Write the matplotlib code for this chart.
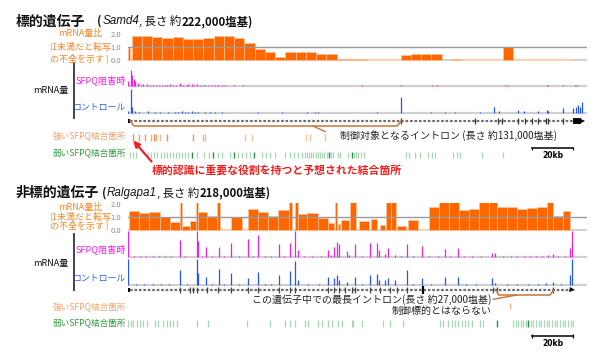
import matplotlib.pyplot as plt
from matplotlib.colors import to_rgba
from matplotlib.patches import Rectangle

plt.rcParams['font.family'] = ['Noto Sans CJK JP', 'DejaVu Sans']

VIEW_KB = 224          # genomic window shown (kb), same scale for both genes
SCALE_KB = 20

# ---------- Samd4 (target gene, ~222,000 bases) ----------
samd4_bin_start = [0.0, 1.8, 6.8, 11.8, 16.8, 21.8, 26.8, 31.8, 36.8, 41.8,
                   46.8, 51.8, 56.8, 61.8, 66.8, 71.8, 76.8, 81.8, 86.8, 91.8,
                   96.8, 101.8, 106.8, 111.8, 133.0, 138.0, 143.0, 148.0, 158.0, 182.8]
samd4_bin_width = [0.8, 5, 5, 5, 5, 5, 5, 5, 5, 5,
                   5, 5, 5, 5, 5, 5, 5, 5, 5, 5,
                   5, 5, 5, 5, 5, 5, 5, 5, 5, 5]
samd4_ratio = [0.92, 1.85, 1.85, 1.75, 1.64, 1.75, 1.57, 1.57, 1.69, 1.82,
               1.82, 1.64, 1.26, 0.82, 0.59, 0.18, 0.57, 0.57, 0.57, 0.44,
               0.44, 0.05, 0.05, 0.05, 0.36, 0.44, 0.44, 0.44, 0.05, 1.00]
samd4_no_reads = [(116.4, 133.0), (163.0, 182.8), (187.3, 217.0)]

samd4_sfpq_pos = [0.2, 1.5, 2.1, 2.8, 3.4, 5.0, 6.3, 7.4,
                  9.1, 10.6, 12.0, 13.5, 15.0, 16.4, 18.1, 19.2,
                  20.5, 22.0, 23.6, 25.4, 27.0, 28.2, 29.4, 31.1,
                  32.3, 33.5, 35.0, 36.4, 37.8, 39.0, 40.8, 42.6,
                  44.1, 46.0, 47.5, 49.3, 51.8, 54.0, 56.2, 58.5,
                  61.0, 63.7, 67.0, 70.2, 73.1, 76.5, 80.0, 84.2,
                  88.3, 92.0, 97.5, 114.0, 133.0, 148.5, 150.6, 158.7,
                  167.2, 183.9, 185.4, 204.2, 205.0, 212.4, 218.0, 218.9]
samd4_sfpq_h = [0.30, 1.00, 0.69, 0.44, 0.30, 0.20, 0.10, 0.12,
                0.12, 0.07, 0.06, 0.09, 0.08, 0.06, 0.07, 0.10,
                0.15, 0.07, 0.08, 0.18, 0.08, 0.06, 0.12, 0.15,
                0.07, 0.12, 0.07, 0.09, 0.08, 0.06, 0.10, 0.07,
                0.06, 0.06, 0.08, 0.05, 0.06, 0.05, 0.06, 0.05,
                0.05, 0.04, 0.05, 0.04, 0.05, 0.04, 0.05, 0.04,
                0.05, 0.04, 0.04, 0.06, 0.06, 0.06, 0.06, 0.05,
                0.05, 0.10, 0.07, 0.08, 0.08, 0.06, 0.07, 0.07]
samd4_ctrl_pos = [0.2, 1.46, 2.1, 3.4, 5.2, 9.9, 13.2, 15.6, 19.7, 22.9,
                  24.5, 26.2, 27.8, 29.4, 31.1, 32.7, 34.3, 37.6, 40.0, 42.4,
                  45.7, 63.6, 75.0, 87.1, 91.2, 92.8, 121.3, 133.0, 147.7, 154.7,
                  159.5, 171.7, 178.7, 181.1, 190.1, 193.3, 199.8, 204.2, 205.0, 212.4,
                  217.2, 218.3, 219.3, 220.5, 221.3]
samd4_ctrl_h = [0.10, 1.00, 0.24, 0.10, 0.06, 0.10, 0.05, 0.06, 0.05, 0.06,
                0.05, 0.07, 0.05, 0.06, 0.07, 0.05, 0.06, 0.05, 0.05, 0.04,
                0.06, 0.05, 0.04, 0.05, 0.04, 0.05, 0.05, 0.68, 0.06, 0.06,
                0.05, 0.05, 0.24, 0.08, 0.14, 0.10, 0.08, 0.12, 0.10, 0.20,
                0.20, 0.25, 0.35, 0.25, 0.48]

samd4_first_exon = (0.0, 1.2)
samd4_exons = [133.2, 169.3, 180.6, 182.3, 190.4, 193.7, 196.9, 200.2, 203.9, 205.0, 212.4]
samd4_last_exon = (217.2, 221.0)
samd4_intron = (1.0, 133.2)

samd4_strong_sites = [2.6, 5.5, 8.3, 11.1, 12.7, 13.7, 15.6, 18.9,
                      31.6, 36.7, 37.6, 57.1, 60.3, 86.8, 88.8, 96.1]
samd4_strong_level = [1.0, 0.8, 0.9, 0.7, 1.0, 0.8, 0.6, 1.0,
                      0.9, 0.7, 0.6, 0.6, 0.5, 0.5, 0.5, 0.6]
samd4_weak_sites = [1.2, 2.4, 3.9, 9.8, 11.2, 12.7, 14.1, 16.1, 17.6, 19.0,
                    20.5, 22.0, 23.4, 24.9, 26.3, 27.8, 29.3, 33.7, 37.1, 39.5,
                    43.9, 45.9, 49.8, 53.7, 55.6, 57.6, 59.5, 65.4, 67.3, 69.3,
                    71.7, 76.6, 79.0, 81.0, 82.9, 84.9, 86.3, 87.3, 88.3, 89.3,
                    90.2, 91.7, 92.7, 93.7, 94.6, 95.6, 97.1, 99.0, 100.0, 102.4,
                    103.4, 107.3, 110.2, 111.2, 112.2, 113.7, 115.1, 135.6, 137.1, 140.0,
                    142.4, 146.3, 148.3, 149.8, 158.5, 160.5, 162.0, 172.7, 182.9]
samd4_weak_dark = [31.2, 41.5, 51.7, 61.5, 98.0, 109.3]

# ---------- Ralgapa1 (non-target gene, ~218,000 bases) ----------
ralgapa1_bin_start = [0.5, 5.4, 10.2, 15.5, 20.5, 25.4, 26.2, 30.4, 33.3, 34.3,
                      38.4, 43.4, 50.2, 58.7, 63.6, 68.1, 73.3, 78.7, 81.5, 82.8,
                      87.5, 92.5, 97.7, 101.0, 102.6, 103.8, 108.3, 112.8, 118.4, 122.9,
                      125.7, 128.2, 131.1, 136.7, 147.0, 151.9, 156.7, 161.6, 166.5, 171.4,
                      176.2, 179.9, 184.7, 189.6, 194.5, 199.4, 204.2, 207.5, 212.4]
ralgapa1_bin_width = [4.9, 4.9, 5.2, 5.0, 4.9, 0.8, 4.2, 2.9, 1.0, 4.1,
                      5.0, 1.5, 5.2, 4.9, 4.6, 5.2, 5.4, 1.2, 1.3, 4.7,
                      5.1, 5.2, 2.9, 1.1, 0.8, 4.2, 2.7, 4.9, 3.2, 2.4,
                      2.5, 2.4, 4.5, 4.7, 4.9, 4.9, 4.9, 4.9, 4.9, 4.9,
                      3.6, 4.9, 4.9, 4.9, 4.9, 4.9, 3.2, 4.9, 3.3]
ralgapa1_ratio = [1.50, 1.34, 1.37, 1.00, 0.58, 2.30, 0.29, 0.71, 2.30, 1.37,
                  1.05, 2.30, 1.00, 1.60, 1.42, 1.05, 1.58, 2.30, 2.30, 1.24,
                  1.29, 0.92, 0.50, 2.30, 0.42, 0.76, 2.30, 0.71, 0.84, 0.38,
                  2.30, 2.30, 0.29, 0.76, 1.76, 2.30, 2.30, 1.55, 1.62, 2.30,
                  2.30, 1.76, 1.76, 1.66, 1.72, 1.76, 2.30, 1.08, 1.50]
ralgapa1_no_reads = [(44.9, 50.2), (55.5, 58.7), (141.5, 147.0)]

ralgapa1_sfpq_pos = [0.2, 3.0, 6.0, 9.0, 12.0, 15.0, 18.0, 21.0, 25.4, 28.0,
                     33.5, 34.3, 36.0, 38.0, 41.0, 44.4, 47.0, 50.2, 54.0, 58.7,
                     61.0, 63.3, 67.0, 70.0, 73.7, 76.0, 79.0, 81.5, 82.8, 86.0,
                     90.0, 94.0, 97.4, 99.0, 100.7, 102.1, 103.1, 106.7, 108.0, 110.7,
                     114.0, 118.0, 121.5, 122.4, 125.4, 127.0, 130.2, 133.0, 135.9, 139.0,
                     143.2, 147.0, 151.0, 154.6, 157.0, 160.8, 164.0, 168.0, 172.0, 177.7,
                     179.0, 183.0, 187.0, 190.0, 193.0, 196.0, 199.0, 202.0, 205.0, 207.5,
                     210.0, 213.0, 215.6, 216.4]
ralgapa1_sfpq_h = [1.00, 0.04, 0.05, 0.04, 0.05, 0.04, 0.05, 0.04, 0.65, 0.04,
                   1.00, 0.60, 0.05, 0.38, 0.05, 0.38, 0.04, 0.53, 0.04, 0.69,
                   0.05, 0.85, 0.05, 0.04, 0.50, 0.05, 0.53, 1.00, 0.27, 0.05,
                   0.04, 0.05, 0.27, 0.08, 0.38, 0.58, 0.49, 0.23, 0.06, 0.49,
                   0.05, 0.54, 0.54, 0.26, 0.10, 0.36, 0.08, 0.05, 0.49, 0.04,
                   0.42, 0.04, 0.05, 0.30, 0.04, 0.36, 0.05, 0.04, 0.05, 0.17,
                   0.17, 0.04, 0.05, 0.04, 0.05, 0.04, 0.05, 0.04, 0.06, 0.13,
                   0.05, 0.05, 0.36, 1.00]
ralgapa1_ctrl_pos = [0.2, 4.0, 8.0, 12.0, 16.0, 20.0, 25.4, 29.0, 33.5, 34.3,
                     38.0, 41.0, 44.4, 47.0, 50.2, 54.0, 58.7, 63.3, 67.0, 70.0,
                     73.7, 79.0, 81.5, 82.8, 88.0, 93.0, 97.4, 100.7, 102.1, 103.1,
                     106.7, 110.7, 114.0, 118.0, 121.5, 122.4, 125.4, 127.0, 130.2, 135.9,
                     139.0, 143.2, 148.0, 154.6, 160.8, 165.0, 170.0, 177.7, 179.0, 185.0,
                     190.0, 195.0, 200.0, 204.0, 207.5, 211.0, 215.6, 216.4]
ralgapa1_ctrl_h = [1.00, 0.04, 0.05, 0.04, 0.04, 0.05, 0.56, 0.04, 1.00, 0.47,
                   0.30, 0.05, 0.63, 0.04, 0.47, 0.05, 0.28, 0.50, 0.04, 0.05,
                   0.38, 0.53, 0.94, 0.20, 0.05, 0.04, 0.30, 0.25, 0.40, 0.20,
                   0.10, 0.32, 0.05, 0.38, 0.43, 0.20, 0.20, 0.28, 0.18, 0.59,
                   0.05, 0.28, 0.04, 0.30, 0.30, 0.05, 0.04, 0.28, 0.09, 0.05,
                   0.05, 0.04, 0.05, 0.06, 0.11, 0.05, 0.38, 1.00]

ralgapa1_first_exon = (0.0, 1.0)
ralgapa1_exons = [25.4, 30.2, 31.9, 33.5, 38.4, 44.0, 50.2, 58.7, 63.3, 73.7,
                  79.0, 81.5, 97.4, 100.6, 103.1, 105.9, 109.1, 110.7, 118.0, 123.0,
                  127.8, 131.1, 136.0, 178.2, 179.8, 207.5]
ralgapa1_big_exon = 144.1
ralgapa1_end = 216.4
ralgapa1_intron = (179.8, 207.5)

ralgapa1_strong_sites = [186.3]
ralgapa1_weak_sites = [0.1, 1.3, 2.6, 4.2, 5.9, 7.5, 9.1, 13.2, 14.8, 17.2,
                       18.9, 20.5, 22.1, 23.8, 33.5, 39.2, 57.9, 69.3, 76.6, 79.0,
                       81.5, 86.3, 88.0, 92.8, 94.5, 97.7, 99.4, 102.6, 104.2, 109.1,
                       109.9, 114.0, 124.5, 127.8, 134.3, 152.2, 153.8, 156.2, 157.9, 159.5,
                       161.1, 162.8, 164.4, 166.0, 167.7, 171.7, 173.3, 188.0, 189.3, 190.4,
                       191.6, 192.8, 194.1, 196.4, 197.7, 199.0, 200.3, 201.6, 202.9, 204.2,
                       205.5, 206.8, 208.1, 209.4, 210.7, 212.0, 213.3, 214.6, 215.9, 217.2]
ralgapa1_weak_dark = [180.1, 195.3]

# ---------- colours ----------
BAR = '#FF6600'
ORANGE_TXT = '#F7862B'
MAGENTA = '#F01EE6'
BLUE = '#2255F0'
STRONG = '#F28A4A'
WEAK_LIGHT = '#A6D7B2'
WEAK_DARK = '#2E8B46'
BRACKET = '#C8743A'
RED = '#F01E1E'

fig = plt.figure(figsize=(6, 3.59), dpi=100)
X0 = 128
X1 = X0 + VIEW_KB * 2.05


def px_axes(left, top, right, bottom):
    return fig.add_axes([left / 600, 1 - bottom / 359,
                         (right - left) / 600, (bottom - top) / 359])


def ratio_track(top, bottom, ylo, yhi, starts, widths, vals, no_reads):
    ax = px_axes(X0, top, X1, bottom)
    ax.bar(starts, vals, width=widths, align='edge', color=BAR,
           edgecolor='#FFC49A', linewidth=0.5, zorder=2)
    ax.axhline(0, color='#d2d2d2', lw=1.6, zorder=1)
    for a, b in no_reads:
        ax.hlines(0, a, b, color='#FDD3B2', lw=1.6, zorder=1.5)
    ax.axhline(1.0, color='#9a9a9a', lw=1.0, zorder=3)
    ax.set_xlim(0, VIEW_KB)
    ax.set_ylim(ylo, yhi)
    ax.set_xticks([])
    ax.set_yticks([0, 1, 2], ['0.0', '1.0', '2.0'])
    ax.tick_params(axis='y', length=0, pad=5, labelsize=5.5, labelcolor='#8a8a8a')
    for s in ax.spines.values():
        s.set_visible(False)
    ax.patch.set_alpha(0)


def coverage_track(top, bottom, pos, h, color):
    ax = px_axes(X0, top, X1, bottom)
    ax.axhline(0, color='#d0d0d0', lw=1.6, zorder=0)
    ax.vlines(pos, 0, h, color=color, lw=0.9, zorder=2)
    ax.set_xlim(0, VIEW_KB)
    ax.set_ylim(-0.06, 1.0)
    ax.axis('off')


def site_rows(g, strong, strong_lvl, weak, weak_dark, y_strong, y_weak):
    g.vlines(strong, y_strong[0], y_strong[1],
             colors=[to_rgba(STRONG, a) for a in strong_lvl], lw=1.0)
    g.vlines(weak, y_weak[0], y_weak[1], colors=WEAK_LIGHT, lw=0.9)
    g.vlines(weak_dark, y_weak[0], y_weak[1], colors=WEAK_DARK, lw=1.0)


def scale_bar(g, y):
    x0 = 197.1
    g.plot([x0, x0 + SCALE_KB], [y, y], color='k', lw=1.1)
    g.vlines([x0, x0 + SCALE_KB], y - 1.6, y + 1.6, color='k', lw=0.9)
    g.text(x0 + SCALE_KB / 2, y + 7, '20kb', ha='center', va='center',
           fontsize=5.5, fontweight='bold', family=['DejaVu Sans'])


# ---------------- top panel : Samd4 ----------------
ratio_track(31, 61, -0.1, 2.2, samd4_bin_start, samd4_bin_width, samd4_ratio, samd4_no_reads)
coverage_track(69.5, 87.5, samd4_sfpq_pos, samd4_sfpq_h, MAGENTA)
coverage_track(89, 114.5, samd4_ctrl_pos, samd4_ctrl_h, BLUE)

g1 = px_axes(X0, 114, X1, 162)
g1.set_xlim(0, VIEW_KB)
g1.set_ylim(162, 114)
g1.axis('off')
g1.hlines(121, samd4_first_exon[1], samd4_last_exon[0], color='#6e6e6e', lw=1.6,
          linestyle=(0, (1.2, 0.8)))
g1.add_patch(Rectangle((samd4_first_exon[0], 118.8), samd4_first_exon[1] - samd4_first_exon[0],
                       4.4, color='k', lw=0))
g1.vlines(samd4_exons, 118.3, 123.7, color='#333333', lw=0.9)
g1.hlines(121, samd4_last_exon[0], samd4_last_exon[1], color='k', lw=4.2)
g1.plot([samd4_last_exon[1] + 0.6], [121], marker='>', ms=4.2, color='k', mew=0)
a, b = samd4_intron
g1.plot([a, a + 1.9, b - 1.9, b], [121, 126, 126, 121], color=BRACKET, lw=1.1)
g1.plot([90.2, 96.1], [126, 131.5], color=BRACKET, lw=1.0)
g1.text(103.4, 135.5, '制御対象となるイントロン (長さ 約131,000塩基)', fontsize=7.2,
        ha='left', va='center', color='#222222')
site_rows(g1, samd4_strong_sites, samd4_strong_level, samd4_weak_sites, samd4_weak_dark,
          (134, 140.7), (151.5, 157.8))
scale_bar(g1, 148.3)

# ---------------- bottom panel : Ralgapa1 ----------------
ratio_track(202.5, 231, -0.1, 2.14, ralgapa1_bin_start, ralgapa1_bin_width,
            ralgapa1_ratio, ralgapa1_no_reads)
coverage_track(231, 258.5, ralgapa1_sfpq_pos, ralgapa1_sfpq_h, MAGENTA)
coverage_track(259, 286.5, ralgapa1_ctrl_pos, ralgapa1_ctrl_h, BLUE)

g2 = px_axes(X0, 284, X1, 348)
g2.set_xlim(0, VIEW_KB)
g2.set_ylim(348, 284)
g2.axis('off')
g2.hlines(290, ralgapa1_first_exon[1], ralgapa1_end, color='#6e6e6e', lw=1.6,
          linestyle=(0, (1.2, 0.8)))
g2.add_patch(Rectangle((ralgapa1_first_exon[0], 287.8), ralgapa1_first_exon[1] - ralgapa1_first_exon[0],
                       4.4, color='k', lw=0))
g2.vlines(ralgapa1_exons, 287.3, 292.7, color='#444444', lw=0.9)
g2.vlines([ralgapa1_big_exon], 286.3, 293.7, color='k', lw=1.6)
g2.plot([ralgapa1_end], [290], marker='>', ms=3.6, color='k', mew=0)
a, b = ralgapa1_intron
g2.plot([a, a + 1.0, b - 1.6, b], [290.7, 295, 295, 290.7], color=BRACKET, lw=1.1)
g2.plot([189.6, 178.2], [295, 299.3], color=BRACKET, lw=1.0)
g2.text(177.4, 300, 'この遺伝子中での最長イントロン(長さ 約27,000塩基)', fontsize=7.2,
        ha='right', va='center', color='#222222')
g2.text(177.4, 310.5, '制御標的とはならない', fontsize=7.2,
        ha='right', va='center', color='#222222')
site_rows(g2, ralgapa1_strong_sites, [0.7], ralgapa1_weak_sites, ralgapa1_weak_dark,
          (303.3, 309.3), (320, 326.7))
scale_bar(g2, 336)

# ---------------- labels / overlay ----------------
ov = fig.add_axes([0, 0, 1, 1])
ov.set_xlim(0, 600)
ov.set_ylim(359, 0)
ov.axis('off')
ov.patch.set_alpha(0)

renderer = fig.canvas.get_renderer()


def put_title(parts, x, y):
    for txt, kw, gap in parts:
        x += gap
        t = ov.text(x, y, txt, ha='left', va='center', color='#111111', **kw)
        x += t.get_window_extent(renderer=renderer).width


ital = dict(fontsize=8.4, style='italic', family=['Liberation Sans'])
put_title([('標的遺伝子', dict(fontsize=10, fontweight='bold'), 0),
           ('(', dict(fontsize=8.2, fontweight='bold'), 12),
           ('Samd4', ital, 0.5),
           (', 長さ 約', dict(fontsize=8.2), 0),
           ('222,000塩基)', dict(fontsize=8.2, fontweight='bold'), 0)], 16, 21.5)
put_title([('非標的遺伝子', dict(fontsize=10, fontweight='bold'), 0),
           ('(', dict(fontsize=8.2, fontweight='bold'), 3),
           ('Ralgapa1', ital, 0.5),
           (', 長さ 約', dict(fontsize=8.2), 0),
           ('218,000塩基)', dict(fontsize=8.2, fontweight='bold'), 0)], 16, 193)

for lines_y, lab_y in (((33.3, 46.5, 58.3), (80, 107.3, 90, 136, 153.3)),
                       ((207.5, 216.8, 225.5), (249, 278.3, 263.3, 307.3, 323.3))):
    for txt, yy in zip(('mRNA量比', '(1未満だと転写', 'の不全を示す )'), lines_y):
        ov.text(80, yy, txt, ha='center', va='center', fontsize=6.5, color=ORANGE_TXT)
    ov.text(126, lab_y[0], 'SFPQ阻害時', ha='right', va='center', fontsize=6.6, color=MAGENTA)
    ov.text(126, lab_y[1], 'コントロール', ha='right', va='center', fontsize=6.4, color='#3060F0')
    ov.text(51, lab_y[2], 'mRNA量', ha='center', va='center', fontsize=6.5, color='#111111')
    ov.text(126, lab_y[3], '強いSFPQ結合箇所', ha='right', va='center', fontsize=6.2, color='#F4A06A')
    ov.text(126, lab_y[4], '弱いSFPQ結合箇所', ha='right', va='center', fontsize=6.2, color='#2F9A3C')

ov.plot([74, 74], [63, 118], color='#444444', lw=1.4)
ov.plot([74, 74], [234, 290], color='#444444', lw=1.4)

ov.annotate('', xy=(133.3, 140.5), xytext=(151.5, 161.5),
            arrowprops=dict(arrowstyle='-|>', color=RED, lw=1.6, mutation_scale=9,
                            shrinkA=0, shrinkB=0))
ov.text(152, 170, '標的認識に重要な役割を持つと予想された結合箇所', ha='left', va='center',
        fontsize=7.8, fontweight='bold', color=RED)

fig.savefig('out.png', dpi=100)
